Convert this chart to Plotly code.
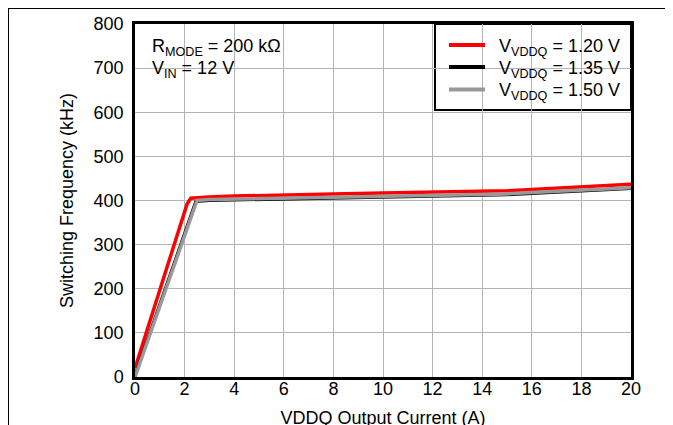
import plotly.graph_objects as go

# Data
red_x = [0, 1.0, 2.0, 2.1, 2.25, 3, 4, 6, 8, 10, 12, 14, 15, 16, 18, 20]
red_y = [20, 196, 372, 392, 405, 408, 410, 413, 415, 417, 419, 421, 422, 425, 431, 437]

black_x = [0, 1.0, 2.0, 2.45, 3, 4, 6, 8, 10, 12, 14, 15, 16, 18, 20]
black_y = [4, 166, 328, 398, 400, 401, 403, 405, 407, 409, 411, 413, 416, 421, 427]

gray_x = [0, 1.0, 2.0, 2.5, 3, 4, 6, 8, 10, 12, 14, 15, 16, 18, 20]
gray_y = [0, 160, 320, 400, 402, 403, 405, 407, 409, 411, 413, 415, 418, 423, 429]

names = ["V<sub>VDDQ</sub> = 1.20 V", "V<sub>VDDQ</sub> = 1.35 V", "V<sub>VDDQ</sub> = 1.50 V"]
colors = ["#ff0000", "#000000", "#999999"]
x_ticks = [0, 2, 4, 6, 8, 10, 12, 14, 16, 18, 20]
y_ticks = [0, 100, 200, 300, 400, 500, 600, 700, 800]

FONT = "Liberation Sans, Arial, sans-serif"
FS = 18

fig = go.Figure()
fig.add_trace(go.Scatter(x=red_x, y=red_y, mode="lines", name=names[0], showlegend=False,
                         line=dict(color=colors[0], width=3.5)))
fig.add_trace(go.Scatter(x=black_x, y=black_y, mode="lines", name=names[1], showlegend=False,
                         line=dict(color=colors[1], width=3)))
fig.add_trace(go.Scatter(x=gray_x, y=gray_y, mode="lines", name=names[2], showlegend=False,
                         line=dict(color=colors[2], width=3.5)))

# page offset of the figure (body margin)
OFF = 8
# plot area in page pixels: x 135..631, y 24..377
PX0, PX1, PY0, PY1 = 135, 631, 24, 377
W, H = 673, 425
pw, ph = PX1 - PX0, PY1 - PY0
L = PX0 - OFF
T = PY0 - OFF
R = W - L - pw
B = H - T - ph


def px(x):
    return (x - PX0) / pw


def py(y):
    return (PY1 - y) / ph


shapes = [
    # white box behind annotation (covers grid)
    dict(type="rect", xref="paper", yref="paper", x0=px(137), x1=px(292), y0=py(90), y1=py(25),
         fillcolor="white", line=dict(width=0), layer="between"),
    # legend box
    dict(type="rect", xref="paper", yref="paper", x0=px(435), x1=px(631), y0=py(110), y1=py(24),
         fillcolor="white", line=dict(color="black", width=2), layer="between"),
    # outer frame lines
    dict(type="line", xref="paper", yref="paper", x0=px(8), x1=px(668), y0=py(8.5), y1=py(8.5),
         line=dict(color="black", width=1)),
    dict(type="line", xref="paper", yref="paper", x0=px(8.5), x1=px(8.5), y0=py(8), y1=py(440),
         line=dict(color="black", width=1)),
]

annotations = [
    dict(xref="paper", yref="paper", x=px(150), y=py(47), xanchor="left", yanchor="middle",
         showarrow=False, text="R<sub>MODE</sub> = 200 kΩ",
         font=dict(family=FONT, size=FS, color="black")),
    dict(xref="paper", yref="paper", x=px(150), y=py(69.5), xanchor="left", yanchor="middle",
         showarrow=False, text="V<sub>IN</sub> = 12 V",
         font=dict(family=FONT, size=FS, color="black")),
]

# manual legend
leg_y = [45, 67, 89.5]
for name, col, ly in zip(names, colors, leg_y):
    shapes.append(dict(type="line", xref="paper", yref="paper", x0=px(449), x1=px(485),
                       y0=py(ly), y1=py(ly), line=dict(color=col, width=4)))
    annotations.append(dict(xref="paper", yref="paper", x=px(497), y=py(ly + 2),
                            xanchor="left", yanchor="middle", showarrow=False, text=name,
                            font=dict(family=FONT, size=FS, color="black")))

fig.update_layout(
    width=W, height=H,
    margin=dict(l=L, r=R, t=T, b=B),
    paper_bgcolor="white", plot_bgcolor="white",
    font=dict(family=FONT, size=FS, color="black"),
    showlegend=False,
    shapes=shapes,
    annotations=annotations,
)

fig.update_xaxes(range=[0, 20], tickvals=x_ticks, ticks="", showgrid=True, automargin=False,
                 gridcolor="#b4b4b4", gridwidth=1, zeroline=False,
                 showline=True, linecolor="black", linewidth=2.5, mirror=True,
                 tickfont=dict(family=FONT, size=FS), ticklabelstandoff=-6,
                 title=dict(text="VDDQ Output Current (A)", standoff=14,
                            font=dict(family=FONT, size=FS)))
fig.update_yaxes(range=[0, 800], tickvals=y_ticks, ticks="", showgrid=True, automargin=False,
                 gridcolor="#b4b4b4", gridwidth=1, zeroline=False,
                 showline=True, linecolor="black", linewidth=2.5, mirror=True,
                 tickfont=dict(family=FONT, size=FS), ticklabelstandoff=5,
                 title=dict(text="Switching Frequency (kHz)", standoff=16,
                            font=dict(family=FONT, size=FS)))

fig.write_html("out.html")
